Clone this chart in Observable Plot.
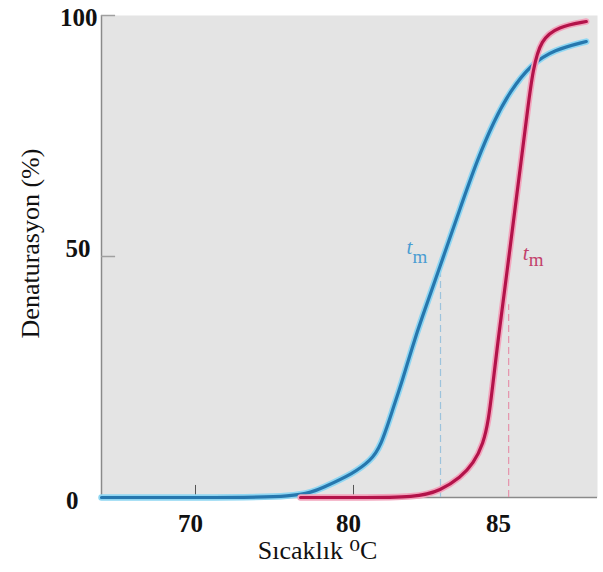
<!DOCTYPE html>
<html>
<head>
<meta charset="utf-8">
<script src="https://cdn.jsdelivr.net/npm/d3@7"></script>
<script src="https://cdn.jsdelivr.net/npm/@observablehq/plot@0.6"></script>
<style>
  html, body { margin: 0; padding: 0; background: #fff; }
  #chart svg { display: block; }
</style>
</head>
<body>
<div id="chart"></div>
<script>
// ---- data ----
const blueTemp = [64, 70, 76.65, 78.1, 80.0, 80.57, 80.9, 81.33, 81.63, 82.0, 82.23, 82.9, 83.57, 84.13, 84.67, 85.23, 85.9, 86.67, 87.73];
const blueDen  = [0, 0, 0, 2.1, 5.0, 7.7, 10.4, 18.7, 24.3, 32.0, 36.4, 48.2, 60.3, 70.1, 78.0, 84.4, 89.8, 92.9, 94.6];
const redTemp  = [76.65, 80, 82.13, 82.9, 83.57, 84.0, 84.33, 84.5, 84.63, 84.8, 84.9, 85.17, 85.4, 85.57, 85.8, 85.97, 86.23, 86.8, 87.73];
const redDen   = [0, 0, 0, 1.46, 4.16, 7.07, 11.2, 16.0, 22.7, 31.6, 36.4, 49.5, 60.9, 69.2, 80.7, 88.8, 95.0, 97.7, 98.75];
const tmBlue = 82.9;
const tmRed = 85.17;
const xTicks = [70, 80, 85];
const yTicks = [0, 50, 100];
const yTitle = "Denaturasyon (%)";
const xTitle = "Sıcaklık ⁰C";

const blue = blueTemp.map((t, i) => ({t, d: blueDen[i]}));
const red = redTemp.map((t, i) => ({t, d: redDen[i]}));

// the original axis is not uniform: 70–80 is drawn narrower per degree than 80–85
const xBreaks = [64, 70, 80, 85, 88.1];
const xPixels = [101, 195, 353, 503, 597];
const warp = d3.scaleLinear().domain(xBreaks).range(xPixels);

const serif = "'Liberation Serif', 'DejaVu Serif', serif";
const yDx = [-23, -11, -4];
const yDy = [3, -8, 2];

const chart = Plot.plot({
  width: 603,
  height: 572,
  marginLeft: 101,
  marginRight: 6,
  marginTop: 15,
  marginBottom: 75,
  x: {type: "linear", transform: warp, domain: [xPixels[0], xPixels[xPixels.length - 1]], axis: null},
  y: {domain: [0, 100], axis: null},
  marks: [
    Plot.frame({fill: "#e4e4e4", stroke: null}),
    // axes lines
    Plot.ruleX([64], {stroke: "#8a8a8a", strokeWidth: 1.5}),
    Plot.ruleY([0], {stroke: "#8a8a8a", strokeWidth: 1.5}),
    Plot.ruleY(yTicks.slice(1), {x1: 64, x2: 64.9, stroke: "#a0a0a0", strokeWidth: 1.5}),
    Plot.ruleX(xTicks.slice(0, 2), {y1: 0, y2: 2.5, stroke: "#555", strokeWidth: 1}),
    // dashed tm lines
    Plot.ruleX([tmBlue], {y1: 0, y2: 48, stroke: "#9cc3dc", strokeWidth: 1.2, strokeDasharray: "7,4"}),
    Plot.ruleX([tmRed], {y1: 0, y2: 40, stroke: "#e593ab", strokeWidth: 1.2, strokeDasharray: "7,4"}),
    // curves with halo
    Plot.line(blue, {x: "t", y: "d", curve: "basis", stroke: "#8fd6f2", strokeWidth: 6.5}),
    Plot.line(blue, {x: "t", y: "d", curve: "basis", stroke: "#2677ae", strokeWidth: 3.2}),
    Plot.line(red, {x: "t", y: "d", curve: "basis", stroke: "#f2a5bd", strokeWidth: 6.5}),
    Plot.line(red, {x: "t", y: "d", curve: "basis", stroke: "#b3134a", strokeWidth: 3.2}),
    // tm labels
    Plot.text([tmBlue], {x: d => d, y: 50, text: () => "t", dx: -34, dy: -3, lineAnchor: "bottom", textAnchor: "start", fontFamily: serif, fontStyle: "italic", fontSize: 21, fill: "#4a9dd2"}),
    Plot.text([tmBlue], {x: d => d, y: 50, text: () => "m", dx: -28, dy: 6, lineAnchor: "bottom", textAnchor: "start", fontFamily: serif, fontSize: 19, fill: "#4a9dd2"}),
    Plot.text([tmRed], {x: d => d, y: 50, text: () => "t", dx: 14, dy: 3, lineAnchor: "bottom", textAnchor: "start", fontFamily: serif, fontStyle: "italic", fontSize: 21, fill: "#c2416b"}),
    Plot.text([tmRed], {x: d => d, y: 50, text: () => "m", dx: 20, dy: 9, lineAnchor: "bottom", textAnchor: "start", fontFamily: serif, fontSize: 19, fill: "#c2416b"}),
    // y tick labels
    ...yTicks.map((t, i) => Plot.text([t], {y: d => d, text: d => String(d), frameAnchor: "left", textAnchor: "end", dx: yDx[i], dy: yDy[i], fontFamily: serif, fontWeight: "bold", fontSize: 25, fill: "#111"})),
    // x tick labels
    Plot.text(xTicks, {x: d => d, text: d => String(d), frameAnchor: "bottom", lineAnchor: "middle", dx: -5, dy: 26, fontFamily: serif, fontWeight: "bold", fontSize: 25, fill: "#111"}),
    // axis titles
    Plot.text([yTitle], {text: d => d, frameAnchor: "left", textAnchor: "middle", rotate: -90, dx: -71, dy: -13, fontFamily: serif, fontSize: 26, fill: "#111"}),
    Plot.text([xTitle], {text: d => d, frameAnchor: "bottom", textAnchor: "middle", lineAnchor: "middle", dx: -32, dy: 53, fontFamily: serif, fontSize: 26, fill: "#111"})
  ]
});
document.getElementById("chart").appendChild(chart);
</script>
</body>
</html>
